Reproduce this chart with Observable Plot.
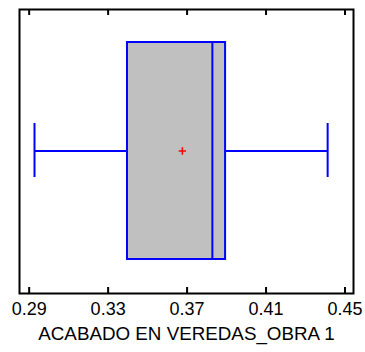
<!DOCTYPE html>
<html>
<head>
<meta charset="utf-8">
<script src="https://cdn.jsdelivr.net/npm/d3@7"></script>
<script src="https://cdn.jsdelivr.net/npm/@observablehq/plot@0.6"></script>
<style>
  html, body { margin: 0; padding: 0; background: #fff; }
  svg { display: block; }
</style>
</head>
<body>
<div id="chart"></div>
<script>
const category = "ACABADO EN VEREDAS_OBRA 1";
const whiskerMin = [0.2927];
const q1 = [0.3398];
const median = [0.3828];
const q3 = [0.3895];
const whiskerMax = [0.4412];
const mean = [0.3676];
const xTicks = [0.29, 0.33, 0.37, 0.41, 0.45];
const xDomain = [0.2851, 0.4543];

const stats = [{name: category, min: whiskerMin[0], q1: q1[0], median: median[0], q3: q3[0], max: whiskerMax[0], mean: mean[0]}];

const blue = "#0000ff";
const font = "'Liberation Sans', Arial, sans-serif";
const fmt = d3.format(".2f");
const chart = Plot.plot({
  width: 365,
  height: 352,
  marginLeft: 19,
  marginRight: 12,
  marginTop: 9,
  marginBottom: 59,
  style: {fontFamily: font, fontSize: "18px", color: "#000", background: "#fff"},
  x: {domain: xDomain, ticks: xTicks, tickFormat: fmt, axis: null},
  y: {domain: [category], padding: 0.1315, axis: null},
  marks: [
    Plot.ruleY(stats, {x1: "min", x2: "q1", y: "name", stroke: blue, strokeWidth: 2}),
    Plot.ruleY(stats, {x1: "q3", x2: "max", y: "name", stroke: blue, strokeWidth: 2}),
    Plot.tickX(stats, {x: "min", y: "name", stroke: blue, strokeWidth: 2, insetTop: 81, insetBottom: 82}),
    Plot.tickX(stats, {x: "max", y: "name", stroke: blue, strokeWidth: 2, insetTop: 81, insetBottom: 82}),
    Plot.barX(stats, {x1: "q1", x2: "q3", y: "name", fill: "#c0c0c0", stroke: blue, strokeWidth: 2}),
    Plot.tickX(stats, {x: "median", y: "name", stroke: blue, strokeWidth: 2}),
    Plot.dot(stats, {x: "mean", y: "name", symbol: "plus", r: 2.5, stroke: "red", strokeWidth: 1.5}),
    Plot.text(xTicks, {x: d => d, frameAnchor: "bottom", text: d => fmt(d), dy: 21, fontSize: 18, fill: "black"}),
    Plot.tickX(xTicks, {x: d => d, stroke: "black", strokeWidth: 2, insetTop: 278}),
    Plot.tickX(xTicks, {x: d => d, stroke: "black", strokeWidth: 2, insetBottom: 278}),
    Plot.text([category], {frameAnchor: "bottom", text: d => d, dy: 46, fontSize: 18.8, fill: "black"}),
    Plot.frame({stroke: "black", strokeWidth: 2})
  ]
});
document.getElementById("chart").append(chart);
</script>
</body>
</html>
